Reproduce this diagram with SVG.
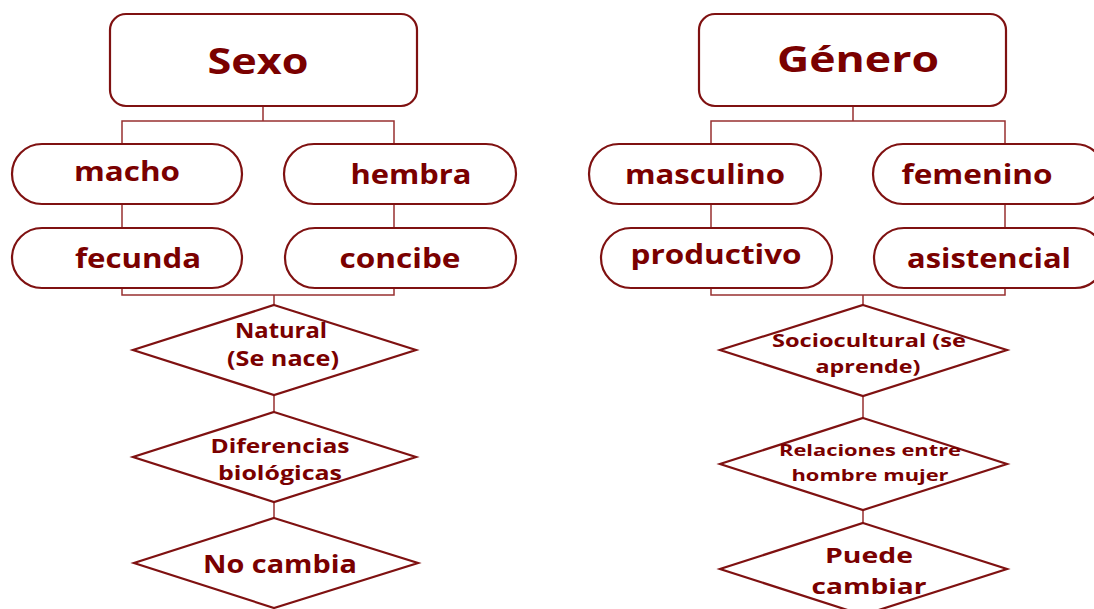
<svg xmlns="http://www.w3.org/2000/svg" width="1094" height="609" viewBox="0 0 1094 609">
<style>
.box{fill:#fff;stroke:#7f1111;stroke-width:2.2}
.pill{fill:#fff;stroke:#7f1111;stroke-width:2.2}
.dia{fill:#fff;stroke:#7f1111;stroke-width:2.2}
.conn{fill:none;stroke:#983030;stroke-width:1.5}
text{font-family:"Open Sans","DejaVu Sans",sans-serif;font-weight:700;fill:#7a0000;text-anchor:middle}
.h{font-size:36px}
.p{font-size:26px}
</style>
<rect width="1094" height="609" fill="#fff"/>
<g id="connectors">
<path class="conn" d="M263 106V121M122 144V121H394V144M122 204V228M394 204V228M122 288V295H394V288M274 295V305M274 395V412M274 502V518"/>
<path class="conn" d="M853 106V121M711 144V121H1005V144M711 204V228M1005 204V228M711 288V295H1005V288M863 295V305M863 396V418M863 510V523"/>
</g>
<g id="sexo"><rect class="box" x="110" y="14" width="307" height="92" rx="16"/><text class="h" x="258" y="74" textLength="101" lengthAdjust="spacingAndGlyphs">Sexo</text></g>
<g id="macho"><rect class="pill" x="12" y="144" width="230" height="60" rx="30"/><text class="p" x="127" y="181" textLength="106" lengthAdjust="spacingAndGlyphs">macho</text></g>
<g id="hembra"><rect class="pill" x="284" y="144" width="232" height="60" rx="30"/><text class="p" x="411" y="184" textLength="121" lengthAdjust="spacingAndGlyphs">hembra</text></g>
<g id="fecunda"><rect class="pill" x="12" y="228" width="230" height="60" rx="30"/><text class="p" x="138" y="268" textLength="126" lengthAdjust="spacingAndGlyphs">fecunda</text></g>
<g id="concibe"><rect class="pill" x="285" y="228" width="231" height="60" rx="30"/><text class="p" x="400" y="268" textLength="121" lengthAdjust="spacingAndGlyphs">concibe</text></g>
<g id="natural"><polygon class="dia" points="274,305 416,350 274,395 133,350"/><text x="281" y="338" font-size="21" textLength="92" lengthAdjust="spacingAndGlyphs">Natural</text><text x="283" y="366" font-size="21" textLength="112" lengthAdjust="spacingAndGlyphs">(Se nace)</text></g>
<g id="diferencias"><polygon class="dia" points="274,412 416,457 274,502 133,457"/><text x="280" y="453" font-size="20" textLength="139" lengthAdjust="spacingAndGlyphs">Diferencias</text><text x="280" y="480" font-size="20" textLength="124" lengthAdjust="spacingAndGlyphs">biológicas</text></g>
<g id="nocambia"><polygon class="dia" points="274,518 418,563 274,608 134,563"/><text x="280" y="573" font-size="25" textLength="154" lengthAdjust="spacingAndGlyphs">No cambia</text></g>
<g id="genero"><rect class="box" x="699" y="14" width="307" height="92" rx="16"/><text class="h" x="858" y="72" textLength="162" lengthAdjust="spacingAndGlyphs">Género</text></g>
<g id="masculino"><rect class="pill" x="589" y="144" width="232" height="60" rx="30"/><text class="p" x="705" y="184" textLength="160" lengthAdjust="spacingAndGlyphs">masculino</text></g>
<g id="femenino"><rect class="pill" x="873" y="144" width="232" height="60" rx="30"/><text class="p" x="977" y="184" textLength="151" lengthAdjust="spacingAndGlyphs">femenino</text></g>
<g id="productivo"><rect class="pill" x="601" y="228" width="231" height="60" rx="30"/><text class="p" x="716" y="264" textLength="171" lengthAdjust="spacingAndGlyphs">productivo</text></g>
<g id="asistencial"><rect class="pill" x="874" y="228" width="231" height="60" rx="30"/><text class="p" x="989" y="268" textLength="164" lengthAdjust="spacingAndGlyphs">asistencial</text></g>
<g id="sociocultural"><polygon class="dia" points="863,305 1007,350 863,396 720,350"/><text x="869" y="347" font-size="18" textLength="194" lengthAdjust="spacingAndGlyphs">Sociocultural (se</text><text x="868" y="373" font-size="18" textLength="105" lengthAdjust="spacingAndGlyphs">aprende)</text></g>
<g id="relaciones"><polygon class="dia" points="863,418 1007,464 863,510 720,464"/><text x="870" y="456" font-size="16.5" textLength="182" lengthAdjust="spacingAndGlyphs">Relaciones entre</text><text x="870" y="481" font-size="16.5" textLength="157" lengthAdjust="spacingAndGlyphs">hombre mujer</text></g>
<g id="puedecambiar"><polygon class="dia" points="863,523 1007,569 863,615 720,569"/><text x="869" y="563" font-size="21" textLength="88" lengthAdjust="spacingAndGlyphs">Puede</text><text x="869" y="594" font-size="21" textLength="115" lengthAdjust="spacingAndGlyphs">cambiar</text></g>
</svg>
